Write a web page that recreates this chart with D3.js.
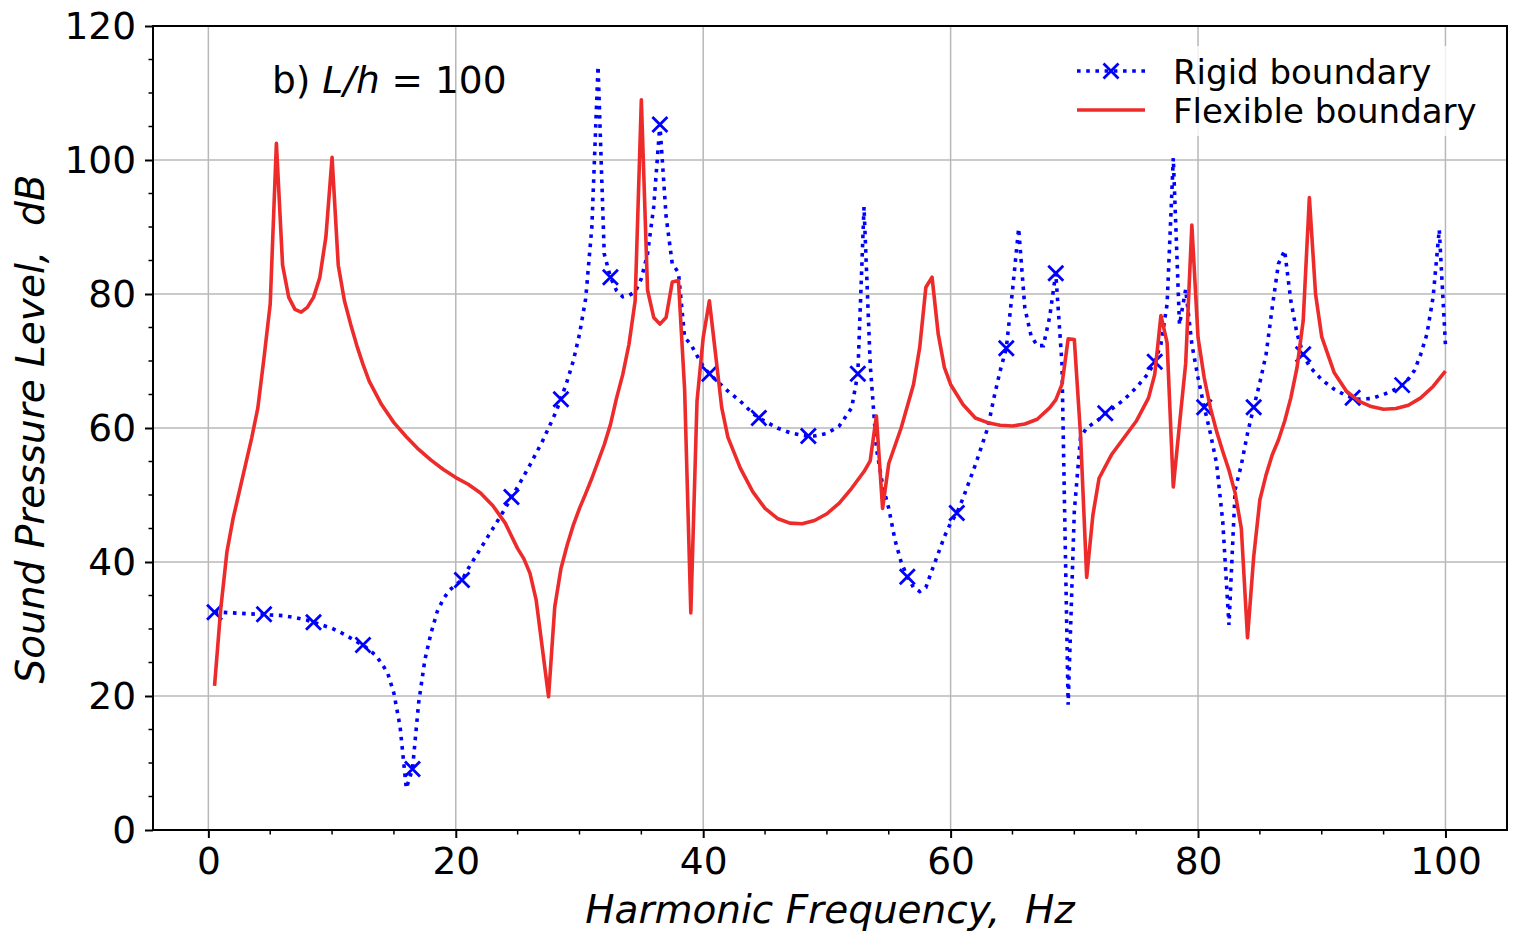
<!DOCTYPE html>
<html><head><meta charset="utf-8">
<script src="https://cdn.jsdelivr.net/npm/d3@7"></script>
<style>body{margin:0;background:#fff} text{font-family:"DejaVu Sans",sans-serif;fill:#000;white-space:pre}</style>
</head><body><svg id="c" width="1537" height="935"></svg>
<script>
const xTicks=[0,20,40,60,80,100];
const yTicks=[0,20,40,60,80,100,120];
const seriesNames=["Rigid boundary","Flexible boundary"];
const rigidFreq=[0.5,1,2,3,4,4.5,5,6,7,8,8.5,9,10,11,12,12.5,13,13.5,14,14.5,15,15.5,16,16.5,17,17.5,18,18.5,19,19.5,20,20.5,21,22,23,24,24.5,25,26,27,28,28.5,29,29.5,30,30.5,31,31.5,32,32.5,33,33.5,34,34.5,35,35.5,36,36.5,37,37.5,38,38.5,39,39.5,40,40.5,41,42,43,44,44.5,45,46,47,48,48.5,49,50,51,52,52.5,53,53.5,54,54.5,55,55.5,56,56.5,57,57.5,58,58.5,59,59.5,60,60.5,61,62,63,63.5,64,64.5,65,65.5,66,66.5,67,67.5,68,68.5,69,69.5,70,70.5,71,72,72.5,73,74,75,76,76.5,77,77.5,78,78.5,79,79.5,80,80.5,81,81.5,82,82.5,83,83.5,84,84.5,85,85.5,86,86.5,87,87.5,88,88.5,89,90,91,92,92.5,93,94,95,96,96.5,97,97.5,98,98.5,99,99.5,100];
const rigidSPL=[32.5,32.5,32.4,32.3,32.2,32.2,32.1,32,31.7,31.3,31,30.7,30.1,29.2,28.1,27.6,26.9,26.1,24.9,23.4,20.4,15.4,6.2,9.1,19,25.4,29.4,32.6,34.5,35.8,36.6,37.3,39,42,45,48,49.7,51.2,54.5,58,62,64.3,67,70,74,79.3,90,114,86,82.5,80.5,79.6,79.8,80.3,82.3,86,93,105.3,91.6,84.5,83.2,73.5,72.5,70.8,69.2,68.1,67.2,65.5,64,62.2,61.5,61,60,59.3,58.9,58.8,58.8,59.2,60.3,63,68.1,93,69.5,57,51.5,48,43.3,40,37.8,36.2,35.6,36.2,38.8,41.3,43.8,45.8,47.3,49.5,54.5,60,64.5,68.5,71.9,80.5,89.8,77.9,73.8,72.3,72.3,76.5,83.1,69.6,18.7,47.6,58.6,60,61.3,62.2,62.8,64.2,66,68.2,69.9,72.5,78.5,100.3,75.4,80.7,72.5,67.5,63.1,59.2,54.7,46,30.6,50.8,54.5,59.2,63.1,66.8,71,78,84.5,86.5,79,74.1,71,69.2,67.2,65.8,64.8,64.5,64.3,64.4,65,65.8,66.4,67.3,68.6,71,74,79.5,89.6,72.4];
const markerFreq=[0.5,4.5,8.5,12.5,16.5,20.5,24.5,28.5,32.5,36.5,40.5,44.5,48.5,52.5,56.5,60.5,64.5,68.5,72.5,76.5,80.5,84.5,88.5,92.5,96.5];
const flexFreq=[0.5,1,1.5,2,2.5,3,3.5,4,4.5,5,5.5,6,6.5,7,7.5,8,8.5,9,9.5,10,10.5,11,11.5,12,12.5,13,14,15,16,17,18,19,20,21,22,23,24,25,25.5,26,26.5,27,27.5,28,28.5,29,29.5,30,30.5,31,32,32.5,33,33.5,34,34.5,35,35.5,36,36.5,37,37.5,38,38.5,39,39.5,40,40.5,41,41.5,42,43,44,45,46,47,48,49,50,51,52,53,53.5,54,54.5,55,56,57,57.5,58,58.5,59,59.5,60,61,62,63,64,65,66,67,68,68.5,69,69.5,70,70.5,71,71.5,72,73,74,75,76,76.5,77,77.5,78,78.5,79,79.5,80,80.5,81,81.5,82,82.5,83,83.5,84,84.5,85,85.5,86,86.5,87,87.5,88,88.5,89,89.5,90,91,92,93,94,95,96,97,98,99,100];
const flexSPL=[21.5,33,41.5,46.5,50.5,54.5,58.5,63,70.5,78.5,102.5,84.3,79.5,77.7,77.3,78,79.5,82.4,88.5,100.4,84.3,79,75.5,72.3,69.5,67,63.5,60.8,58.7,56.8,55.2,53.8,52.6,51.6,50.3,48.4,45.8,42,40.5,38.3,34.3,27.1,19.9,33.3,39,42.5,45.5,48,50.2,52.5,57.5,60.5,64.5,68,72.5,79,109,80.6,76.5,75.5,76.5,81.8,82,65.7,32.4,64,73.5,79,71,63,58.6,54,50.5,48,46.5,45.8,45.7,46.2,47.2,48.8,51,53.5,55.1,61.8,48,54.7,60,66.5,72,81,82.5,74,69,66.5,63.5,61.5,60.8,60.4,60.3,60.6,61.3,63,64.2,66.5,73.3,73.2,59,37.7,47,52.5,56,58.5,61,64.5,68,76.8,72.7,51.2,60.5,69.6,90.3,73.5,67.5,63,59.5,56.5,53.7,50.3,45,28.7,40.8,49.3,53,56,58.2,61,64.5,69,76,94.4,80,73.6,68.3,65.5,64,63.2,62.8,62.9,63.4,64.5,66.2,68.5];

const rigid=rigidFreq.map((f,i)=>({f,v:rigidSPL[i]}));
const flex=flexFreq.map((f,i)=>({f,v:flexSPL[i]}));
const markers=rigid.filter(d=>markerFreq.includes(d.f));

const L=153,R=1507,T=26,B=830;
const x=d3.scaleLinear().domain([-4.475,104.975]).range([L,R]);
const y=d3.scaleLinear().domain([0,120]).range([B,T]);
const svg=d3.select("#c");
const blue="#0000ff", red="#ee2b2b";

// grid
const g=svg.append("g");
g.selectAll("line.vx").data(xTicks).join("line").attr("x1",d=>x(d)).attr("x2",d=>x(d)).attr("y1",T).attr("y2",B).attr("stroke","#b8b8b8").attr("stroke-width",1.5);
g.selectAll("line.hy").data(yTicks).join("line").attr("x1",L).attr("x2",R).attr("y1",d=>y(d)).attr("y2",d=>y(d)).attr("stroke","#b8b8b8").attr("stroke-width",1.5);

svg.append("clipPath").attr("id","cp").append("rect").attr("x",L).attr("y",T).attr("width",R-L).attr("height",B-T);
const line=d3.line().x(d=>x(d.f)).y(d=>y(d.v));
const plot=svg.append("g").attr("clip-path","url(#cp)");
const bw=3.6;
plot.append("path").datum(rigid).attr("d",line).attr("fill","none").attr("stroke",blue).attr("stroke-width",bw).attr("stroke-dasharray","3.6,5.6");
const ms=7.5;
const xPath=`M${-ms},${-ms}L${ms},${ms}M${-ms},${ms}L${ms},${-ms}`;
plot.selectAll("path.mk").data(markers).join("path").attr("class","mk")
  .attr("d",xPath)
  .attr("transform",d=>`translate(${x(d.f)},${y(d.v)})`).attr("stroke",blue).attr("stroke-width",2.8).attr("fill","none");
plot.append("path").datum(flex).attr("d",line).attr("fill","none").attr("stroke",red).attr("stroke-width",3.6).attr("stroke-linejoin","round");

// axes
const xa=svg.append("g").attr("transform",`translate(0,${B})`).call(d3.axisBottom(x).tickValues(xTicks).tickSize(8).tickPadding(9));
const ya=svg.append("g").attr("transform",`translate(${L},0)`).call(d3.axisLeft(y).tickValues(yTicks).tickSize(8).tickPadding(9));
[xa,ya].forEach(a=>{a.selectAll("text").attr("font-size",37.5).attr("font-family","DejaVu Sans");a.selectAll("line").attr("stroke-width",2);a.select(".domain").remove();});
const xMinor=d3.range(0,101,5).filter(v=>v%20!==0);
const yMinor=d3.range(0,121,5).filter(v=>v%20!==0);
svg.append("g").selectAll("line").data(xMinor).join("line").attr("x1",d=>x(d)).attr("x2",d=>x(d)).attr("y1",B).attr("y2",B+4.5).attr("stroke","#000").attr("stroke-width",1.5);
svg.append("g").selectAll("line").data(yMinor).join("line").attr("y1",d=>y(d)).attr("y2",d=>y(d)).attr("x1",L).attr("x2",L-4.5).attr("stroke","#000").attr("stroke-width",1.5);
svg.append("rect").attr("x",L).attr("y",T).attr("width",R-L).attr("height",B-T).attr("fill","none").attr("stroke","#000").attr("stroke-width",2);

// axis labels
svg.append("text").attr("x",830).attr("y",923).attr("text-anchor","middle").attr("font-size",39).attr("font-style","italic").text("Harmonic Frequency,  Hz");
svg.append("text").attr("transform",`translate(44,429) rotate(-90)`).attr("text-anchor","middle").attr("font-size",39).attr("font-style","italic").text("Sound Pressure Level,  dB");

// annotation
const ann=svg.append("text").attr("x",272).attr("y",93).attr("font-size",37.5);
ann.append("tspan").text("b) ");
ann.append("tspan").attr("font-style","italic").text("L/h");
ann.append("tspan").text(" = 100");

// legend
const lg=svg.append("g");
lg.append("rect").attr("x",1064).attr("y",46).attr("width",430).attr("height",90).attr("fill","#fff").attr("opacity",0.8);
lg.append("line").attr("x1",1077).attr("x2",1145).attr("y1",71).attr("y2",71).attr("stroke",blue).attr("stroke-width",bw).attr("stroke-dasharray","3.6,5.6");
lg.append("path").attr("d",xPath).attr("transform","translate(1111,71)").attr("stroke",blue).attr("stroke-width",2.8);
lg.append("line").attr("x1",1077).attr("x2",1145).attr("y1",110).attr("y2",110).attr("stroke",red).attr("stroke-width",3.6);
lg.selectAll("text.lt").data(seriesNames).join("text").attr("x",1173).attr("y",(d,i)=>84+i*39).attr("font-size",34).text(d=>d);
</script></body></html>
